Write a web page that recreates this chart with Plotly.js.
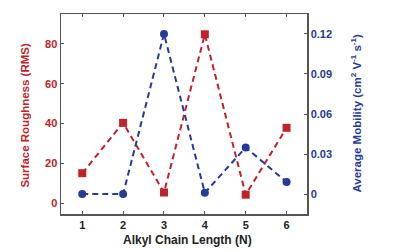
<!DOCTYPE html>
<html><head><meta charset="utf-8">
<script src="https://cdn.plot.ly/plotly-3.0.1.min.js"></script>
<style>html,body{margin:0;padding:0;background:#fff}#c{width:401px;height:252px}</style>
</head><body><div id="c"></div>
<script>
const chainLength = [1, 2, 3, 4, 5, 6];
const roughness = [15, 40.3, 5.3, 84.8, 4.2, 37.8];
const mobility = [0, 0, 0.12, 0.001, 0.035, 0.009];
const xTicks = [1, 2, 3, 4, 5, 6];
const yTicks = [0, 20, 40, 60, 80];
const y2Ticks = [0, 0.03, 0.06, 0.09, 0.12];
const y2TickText = ['0', '0.03', '0.06', '0.09', '0.12'];
const xTitle = 'Alkyl Chain Length (N)';
const yTitle = 'Surface Roughness (RMS)';
const y2Title = 'Average Mobility (cm<sup>2</sup> V<sup>-1</sup> s<sup>-1</sup>)';

const red = '#c0222a', blue = '#263a99';
const font = 'Liberation Sans, Arial, sans-serif';

const traces = [
  {x: chainLength, y: roughness, type: 'scatter', mode: 'lines+markers',
   line: {color: red, width: 2, dash: '6px,4px'},
   marker: {symbol: 'square', size: 8, color: red}, yaxis: 'y'},
  {x: chainLength, y: mobility, type: 'scatter', mode: 'lines+markers',
   line: {color: blue, width: 2, dash: '6px,4px'},
   marker: {symbol: 'circle', size: 8, color: blue}, yaxis: 'y2'}
];

const layout = {
  width: 401, height: 252,
  margin: {l: 61, r: 94, t: 14, b: 38},
  paper_bgcolor: '#fff', plot_bgcolor: '#fff',
  showlegend: false,
  font: {family: font, size: 11, color: '#222'},
  xaxis: {range: [0.48, 6.5], tickvals: xTicks, ticks: 'inside', ticklen: 3,
    tickcolor: '#555', showline: true, linecolor: '#555', linewidth: 1.5, mirror: 'ticks',
    showgrid: false, zeroline: false,
    tickfont: {family: font, size: 11, color: '#222', weight: 'bold'}},
  yaxis: {range: [-5.5, 95], tickvals: yTicks, ticks: 'inside', ticklen: 3,
    tickcolor: '#555', showline: true, linecolor: '#555', linewidth: 1.5,
    showgrid: false, zeroline: false,
    tickfont: {family: font, size: 11, color: red, weight: 'bold'}},
  yaxis2: {range: [-0.0149, 0.1349], tickvals: y2Ticks, ticktext: y2TickText,
    overlaying: 'y', side: 'right', ticks: 'inside', ticklen: 3,
    tickcolor: '#555', showline: true, linecolor: '#555', linewidth: 1.5,
    showgrid: false, zeroline: false,
    tickfont: {family: font, size: 11, color: blue, weight: 'bold'}},
  annotations: [
    {text: '<b>' + xTitle + '</b>', xref: 'paper', yref: 'paper', x: 0.516, y: -0.13,
     xanchor: 'center', yanchor: 'middle', showarrow: false,
     font: {family: font, size: 12, color: '#222'}},
    {text: '<b>' + yTitle + '</b>', xref: 'paper', yref: 'paper', x: -0.148, y: 0.495,
     xanchor: 'center', yanchor: 'middle', showarrow: false, textangle: -90,
     font: {family: font, size: 11.5, color: red}},
    {text: '<b>' + y2Title + '</b>', xref: 'paper', yref: 'paper', x: 1.199, y: 0.507,
     xanchor: 'center', yanchor: 'middle', showarrow: false, textangle: -90,
     font: {family: font, size: 11.5, color: blue}}
  ]
};

Plotly.newPlot('c', traces, layout, {staticPlot: true, displayModeBar: false});
</script></body></html>
